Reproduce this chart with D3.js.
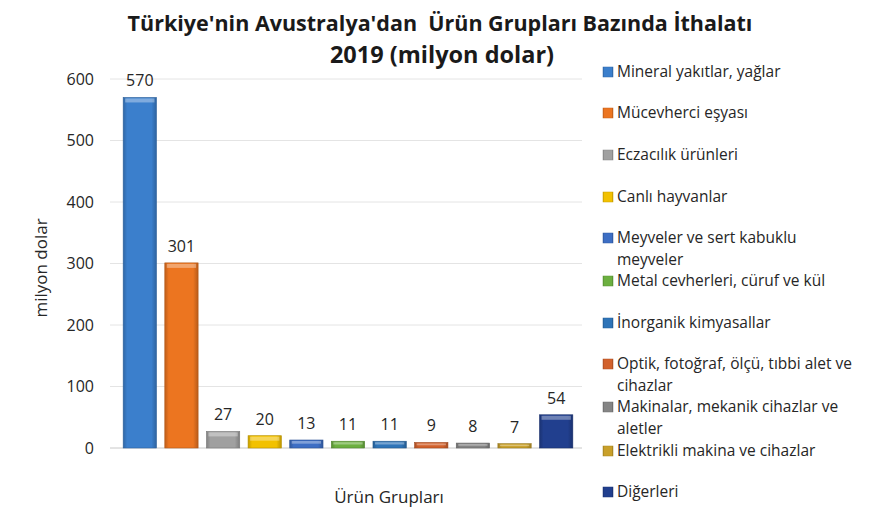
<!DOCTYPE html>
<html>
<head>
<meta charset="utf-8">
<script src="https://cdnjs.cloudflare.com/ajax/libs/d3/7.8.5/d3.min.js"></script>
<style>
  body { margin: 0; background: #fff; }
  text { font-family: "Open Sans", "Noto Sans", sans-serif; fill: #262626; white-space: pre; }
</style>
</head>
<body>
<div id="chart"></div>
<script>
// veriler
const categories = [
  "Mineral yakıtlar, yağlar",
  "Mücevherci eşyası",
  "Eczacılık ürünleri",
  "Canlı hayvanlar",
  "Meyveler ve sert kabuklu meyveler",
  "Metal cevherleri, cüruf ve kül",
  "İnorganik kimyasallar",
  "Optik, fotoğraf, ölçü, tıbbi alet ve cihazlar",
  "Makinalar, mekanik cihazlar ve aletler",
  "Elektrikli makina ve cihazlar",
  "Diğerleri"
];
const values = [570, 301, 27, 20, 13, 11, 11, 9, 8, 7, 54];
const colors = ["#3b7fcc", "#ec7520", "#a0a0a0", "#f2c100", "#3d6ec4", "#6cb040",
                "#2e74b8", "#d2612c", "#858585", "#c9a02a", "#213f8e"];
// legend satırları (Excel'deki kaydırma gibi)
const legendLines = [
  ["Mineral yakıtlar, yağlar"],
  ["Mücevherci eşyası"],
  ["Eczacılık ürünleri"],
  ["Canlı hayvanlar"],
  ["Meyveler ve sert kabuklu", "meyveler"],
  ["Metal cevherleri, cüruf ve kül"],
  ["İnorganik kimyasallar"],
  ["Optik, fotoğraf, ölçü, tıbbi alet ve", "cihazlar"],
  ["Makinalar, mekanik cihazlar ve", "aletler"],
  ["Elektrikli makina ve cihazlar"],
  ["Diğerleri"]
];
const yTicks = [0, 100, 200, 300, 400, 500, 600];

const width = 879, height = 519;
const svg = d3.select("#chart").append("svg")
  .attr("width", width).attr("height", height);

const defs = svg.append("defs");
colors.forEach((c, i) => {
  const g = defs.append("linearGradient").attr("id", "grad" + i)
    .attr("x1", "0").attr("x2", "1").attr("y1", "0").attr("y2", "0");
  g.append("stop").attr("offset", "0%").attr("stop-color", d3.color(c).darker(0.6));
  g.append("stop").attr("offset", "12%").attr("stop-color", c);
  g.append("stop").attr("offset", "85%").attr("stop-color", c);
  g.append("stop").attr("offset", "100%").attr("stop-color", d3.color(c).darker(0.7));
});

const x = d3.scaleBand().domain(categories).range([119, 577]).paddingInner(0.2).paddingOuter(0.1);
const y = d3.scaleLinear().domain([0, 600]).range([448, 79]);

// grid
svg.append("g").selectAll("line")
  .data(yTicks)
  .join("line")
  .attr("x1", 110).attr("x2", 582)
  .attr("y1", d => y(d)).attr("y2", d => y(d))
  .attr("stroke", d => d === 0 ? "#c8c8c8" : "#e4e4e4")
  .attr("stroke-width", 1);

// y tick labels
svg.append("g").selectAll("text")
  .data(yTicks)
  .join("text")
  .attr("x", 94).attr("y", d => y(d)).attr("dy", "0.35em")
  .attr("text-anchor", "end")
  .style("font-size", "16px")
  .text(d => d);

// bars
const bars = svg.append("g").selectAll("g")
  .data(values)
  .join("g");

bars.append("rect")
  .attr("x", (d, i) => x(categories[i]))
  .attr("y", d => y(d))
  .attr("width", x.bandwidth())
  .attr("height", d => y(0) - y(d))
  .attr("fill", (d, i) => `url(#grad${i})`)
  .attr("stroke", (d, i) => d3.color(colors[i]).darker(0.8))
  .attr("stroke-width", 0.6);

// üst parlama
bars.append("rect")
  .attr("x", (d, i) => x(categories[i]) + 2)
  .attr("y", d => y(d) + 1)
  .attr("width", x.bandwidth() - 4)
  .attr("height", d => Math.min(4, (y(0) - y(d)) / 3))
  .attr("fill", "#fff")
  .attr("opacity", 0.35);

// değer etiketleri
bars.append("text")
  .attr("x", (d, i) => x(categories[i]) + x.bandwidth() / 2)
  .attr("y", d => y(d) - 11)
  .attr("text-anchor", "middle")
  .style("font-size", "16px")
  .text(d => d);

// başlık
svg.append("text")
  .attr("x", 440).attr("y", 31)
  .attr("text-anchor", "middle")
  .style("font-size", "21.5px").style("font-weight", "bold").style("fill", "#1a1a1a")
  .text("Türkiye'nin Avustralya'dan  Ürün Grupları Bazında İthalatı");
svg.append("text")
  .attr("x", 442).attr("y", 63)
  .attr("text-anchor", "middle")
  .style("font-size", "23.5px").style("font-weight", "bold").style("fill", "#1a1a1a")
  .text("2019 (milyon dolar)");

// eksen başlıkları
svg.append("text")
  .attr("transform", "translate(47,268) rotate(-90)")
  .attr("text-anchor", "middle")
  .style("font-size", "17px")
  .text("milyon dolar");
svg.append("text")
  .attr("x", 389).attr("y", 503)
  .attr("text-anchor", "middle")
  .style("font-size", "17px")
  .text("Ürün Grupları");

// legend
const legendY = [72, 113, 155, 197, 238, 281, 323, 364, 407, 451, 492];
const legend = svg.append("g").selectAll("g")
  .data(legendLines)
  .join("g")
  .attr("transform", (d, i) => `translate(603,${legendY[i]})`);

legend.append("rect")
  .attr("x", 0).attr("y", -5)
  .attr("width", 10).attr("height", 10)
  .attr("fill", (d, i) => `url(#grad${i})`)
  .attr("stroke", (d, i) => d3.color(colors[i]).darker(0.5))
  .attr("stroke-width", 0.5);

legend.each(function(lines) {
  const t = d3.select(this).append("text")
    .attr("x", 14).attr("y", 0)
    .style("font-size", "15.5px");
  lines.forEach((l, j) => {
    t.append("tspan").attr("x", 14).attr("dy", j === 0 ? "0.35em" : "21.5px").text(l);
  });
});
</script>
</body>
</html>
